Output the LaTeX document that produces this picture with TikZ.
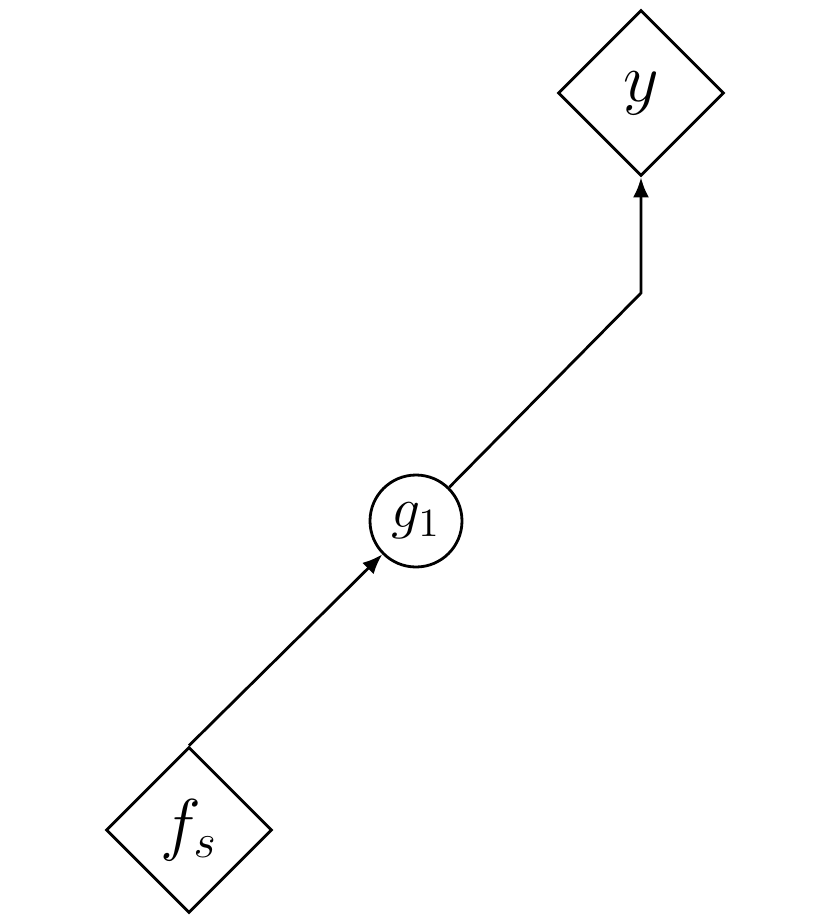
\documentclass[tikz,border=0pt]{standalone}
\usetikzlibrary{shapes.geometric,arrows.meta}
\begin{document}
\begin{tikzpicture}[x=0.25pt,y=-0.25pt,line width=0.7pt,
  dia/.style={draw,diamond,minimum size=41.5pt,inner sep=0pt,font=\LARGE},
  circ/.style={draw,circle,minimum size=23pt,inner sep=0pt,font=\Large},
  arr/.style={-{Latex[length=5pt,width=4pt]}}]
\useasboundingbox (0,0) rectangle (831,923);
\node[dia] (y) at (641,93) {$y$};
\node[circ] (g) at (416,521) {$g_1$};
\node[dia] (f) at (189,830) {$f_s$};
\coordinate (b) at (641,293);
\draw[arr] (f.north) -- (g);
\draw[arr] (g) -- (b) -- (y.south);
\end{tikzpicture}
\end{document}
